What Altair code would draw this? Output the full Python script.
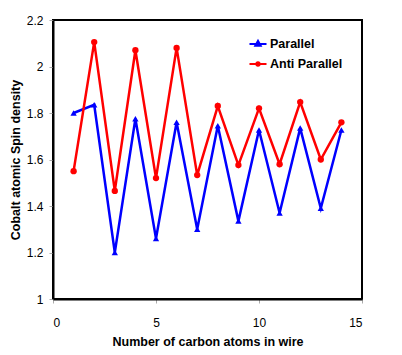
import altair as alt
import pandas as pd

carbon = list(range(1, 15))
parallel = [1.80, 1.835, 1.20, 1.775, 1.26, 1.76, 1.30, 1.745, 1.335, 1.727, 1.37, 1.735, 1.39, 1.727]
anti = [1.55, 2.105, 1.465, 2.07, 1.52, 2.08, 1.533, 1.83, 1.576, 1.82, 1.58, 1.847, 1.60, 1.76]
series = ["Parallel", "Anti Parallel"]
colors = ["#0000FF", "#FF0000"]

rows = []
for name, vals in zip(series, [parallel, anti]):
    for c, v in zip(carbon, vals):
        rows.append({"n": c, "val": v, "series": name})
df = pd.DataFrame(rows)

tri_path = "M-1,0L1,0M0,-0.36L0.3,0.18L-0.3,0.18Z"
circ_path = "M-1,0L1,0M0.18,0A0.18,0.18,0,1,1,-0.18,0A0.18,0.18,0,1,1,0.18,0Z"

x = alt.X("n:Q", scale=alt.Scale(domain=[0, 15], nice=False),
          axis=alt.Axis(values=[0, 5, 10, 15], title="Number of carbon atoms in wire",
                        grid=False, titlePadding=7, labelPadding=14))
y = alt.Y("val:Q", scale=alt.Scale(domain=[1, 2.2], nice=False),
          axis=alt.Axis(values=[1, 1.2, 1.4, 1.6, 1.8, 2, 2.2], title="Cobalt atomic Spin density",
                        grid=False, titlePadding=4, format=".1~f", labelPadding=6))

base = alt.Chart(df)
layers = []
for name, col, shp in zip(series, colors, ["triangle-up", "circle"]):
    sub = base.transform_filter(alt.datum.series == name)
    layers.append(sub.mark_line(strokeWidth=2.5, color=col).encode(x=x, y=y))
    layers.append(sub.mark_point(filled=True, size=40, opacity=1, color=col, shape=shp).encode(x=x, y=y))

leg = dict(
    title=None, orient="none", legendX=195, legendY=14,
    symbolSize=290, symbolStrokeWidth=2.2, symbolOpacity=1, rowPadding=3,
    labelFont="Liberation Sans", labelFontSize=12.5, labelFontWeight="bold",
    labelColor="black", labelOffset=2,
)
legend_layer = base.mark_point(filled=False, opacity=0, strokeWidth=2.2).encode(
    x=x, y=y,
    color=alt.Color("series:N", scale=alt.Scale(domain=series, range=colors), legend=alt.Legend(**leg)),
    shape=alt.Shape("series:N", scale=alt.Scale(domain=series, range=[tri_path, circ_path]),
                    legend=alt.Legend(**leg)),
)
layers.append(legend_layer)

chart = alt.layer(*layers).properties(
    width=309, height=279,
    autosize=alt.AutoSizeParams(type="none"),
    padding={"left": 45, "top": 12, "right": 30, "bottom": 48},
).configure_view(
    stroke="black", strokeWidth=2
).configure_axis(
    labelFont="Liberation Sans", labelFontSize=12, labelColor="black",
    titleFont="Liberation Sans", titleFontSize=12.5, titleFontWeight="bold", titleColor="black",
    domainColor="black", domainWidth=2, tickColor="#aaaaaa", tickSize=4,
)

chart.save("out.html", embed_options={"renderer": "svg", "actions": False})
